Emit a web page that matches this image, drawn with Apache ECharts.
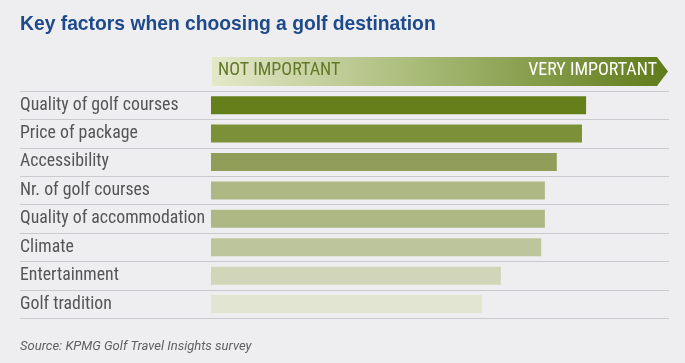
<!DOCTYPE html>
<html><head><meta charset="utf-8">
<script src="https://cdn.jsdelivr.net/npm/echarts@6/dist/echarts.min.js"></script>
<style>html,body{margin:0;padding:0;background:#eeeef0;}#c{width:685px;height:363px;}</style>
</head><body><div id="c"></div>
<script>
const categories = ["Quality of golf courses","Price of package","Accessibility","Nr. of golf courses","Quality of accommodation","Climate","Entertainment","Golf tradition"];
const values = [81.9, 81.0, 75.5, 72.9, 72.9, 72.1, 63.3, 59.2];
const barColors = ["#657f1b","#7b9037","#909e59","#adb884","#adb884","#bcc59b","#d0d6b7","#e2e5d2"];
const scaleLabels = ["NOT IMPORTANT","VERY IMPORTANT"];
const NARROW = "'Liberation Sans Narrow', 'Roboto Condensed', 'DejaVu Sans Condensed', Roboto, sans-serif";
const chart = echarts.init(document.getElementById('c'), null, {renderer:'canvas'});
chart.setOption({
  backgroundColor: '#eeeef0',
  animation: false,
  title: {
    text: 'Key factors when choosing a golf destination',
    left: 20, top: 15, padding: 0,
    textStyle: {fontFamily: 'Liberation Sans, Arial, sans-serif', fontWeight: 'bold', fontSize: 19.3, color: '#1d4a8a'}
  },
  graphic: [
    {type:'polygon', shape:{points:[[212,57],[657,57],[668,71.5],[657,86],[212,86]]},
     style:{fill:new echarts.graphic.LinearGradient(0,0,1,0,[{offset:0,color:'#e4e8c9'},{offset:0.45,color:'#a9bb78'},{offset:1,color:'#5f7b1a'}])}},
    {type:'text', left:218, top:61, style:{text:scaleLabels[0], font:'18px '+NARROW, fill:'#62792a'}},
    {type:'text', right:28, top:61, style:{text:scaleLabels[1], font:'18px '+NARROW, fill:'#ffffff', textAlign:'right'}},
    {type:'text', left:20, top:340, style:{text:'Source: KPMG Golf Travel Insights survey', font:'italic 13px Roboto, sans-serif', fill:'#606060'}}
  ],
  grid: {left: 20, right: 16, top: 91, bottom: 44.7, containLabel: false},
  xAxis: {type:'value', min:-41.7, max:100, show:false},
  yAxis: {
    type:'category', data: categories, inverse: true,
    axisLine:{show:false}, axisTick:{show:false},
    axisLabel:{inside:true, margin:0, fontFamily:NARROW, fontSize:17.8, color:'#555'},
    splitLine:{show:true, lineStyle:{color:'#cacace', width:1.2}}
  },
  series: [{
    type:'bar', data: values.map((v,i)=>({value:v, itemStyle:{color:barColors[i]}})),
    barWidth: 18, silent:true
  }]
});
</script></body></html>
